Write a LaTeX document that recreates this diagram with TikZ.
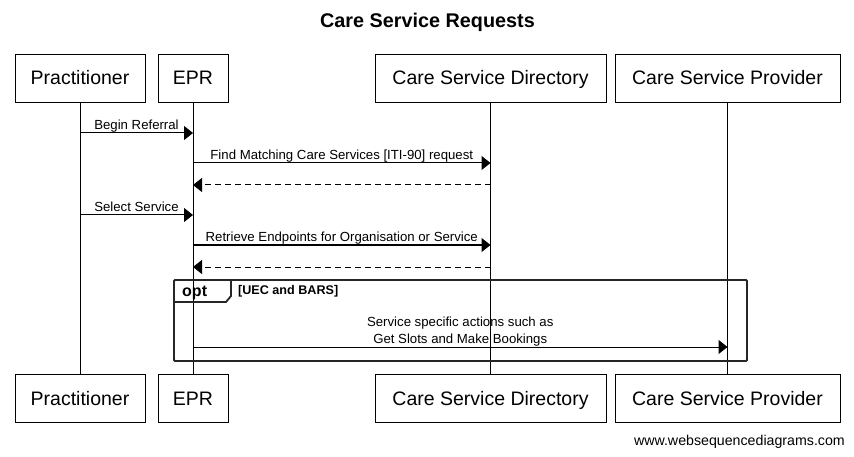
\documentclass[tikz,border=0pt]{standalone}
\usepackage{fontspec}
\setmainfont{Liberation Sans}
\usetikzlibrary{arrows.meta}
\begin{document}
\begin{tikzpicture}[x=1pt,y=-1pt,
  part/.style={draw, line width=1pt, minimum height=48pt, inner sep=0pt, text height=17pt, text depth=4pt, font=\fontsize{19.5}{23}\selectfont},
  msg/.style={line width=1pt, -{Triangle[length=9pt,width=14pt]}},
  ret/.style={msg, dash pattern=on 6pt off 4pt},
  lbl/.style={font=\fontsize{13.2}{16.5}\selectfont, inner sep=0pt, anchor=base, yshift=3pt},
  lbltwo/.style={font=\fontsize{13.2}{16.5}\selectfont, inner sep=0pt, anchor=south, yshift=0.5pt, align=center},
  life/.style={line width=1pt},
  frame/.style={line width=1.8pt, draw=black!85}]
\useasboundingbox[fill=white] (0,0) rectangle (854,457);

\node[font=\bfseries\fontsize{19.8}{22}\selectfont, anchor=base, inner sep=0pt] (title) at (427.5,28) {Care Service Requests};

% participants top
\node[part, minimum width=130pt] (pT) at (80,78.5) {Practitioner};
\node[part, minimum width=70pt]  (eT) at (193,78.5) {EPR};
\node[part, minimum width=231pt] (dT) at (490.5,78.5) {Care Service Directory};
\node[part, minimum width=225pt] (sT) at (727.5,78.5) {Care Service Provider};
% participants bottom
\node[part, minimum width=130pt] (pB) at (80,398.5) {Practitioner};
\node[part, minimum width=70pt]  (eB) at (193,398.5) {EPR};
\node[part, minimum width=231pt] (dB) at (490.5,398.5) {Care Service Directory};
\node[part, minimum width=225pt] (sB) at (727.5,398.5) {Care Service Provider};

% lifelines
\draw[life] (pT) -- (pB);
\draw[life] (eT) -- (eB);
\draw[life] (dT) -- (dB);
\draw[life] (sT) -- (sB);

% rows
\coordinate (r1) at (0,133);
\coordinate (r2) at (0,163);
\coordinate (r3) at (0,185);
\coordinate (r4) at (0,215);
\coordinate (r5) at (0,245);
\coordinate (r6) at (0,267);
\coordinate (r7) at (0,347);

\draw[msg] (pT |- r1) -- node[lbl] {Begin Referral} (eT |- r1);
\draw[msg] (eT |- r2) -- node[lbl] {Find Matching Care Services [ITI-90] request} (dT |- r2);
\draw[ret] (dT |- r3) -- (eT |- r3);
\draw[msg] (pT |- r4) -- node[lbl] {Select Service} (eT |- r4);
\draw[msg] (eT |- r5) -- node[lbl] {Retrieve Endpoints for Organisation or Service} (dT |- r5);
\draw[ret] (dT |- r6) -- (eT |- r6);

% opt frame
\node[frame, rounded corners=1pt, minimum width=573pt, minimum height=81pt, inner sep=0pt] (opt) at (460.5,320.5) {};
\coordinate (tabA) at (174,302);
\coordinate (tabB) at (226,302);
\coordinate (tabC) at (231,296);
\coordinate (tabD) at (231,280);
\draw[frame] (tabA) -- (tabB) -- (tabC) -- (tabD);
\node[font=\bfseries\fontsize{16}{18}\selectfont, anchor=base west, inner sep=0pt] (optlbl) at (182,296.5) {opt};
\node[font=\bfseries\fontsize{12.6}{15}\selectfont, anchor=base west, inner sep=0pt] (cond) at (238,294.5) {[UEC and BARS]};

\draw[msg] (eT |- r7) -- node[lbltwo] {Service specific actions such as\\Get Slots and Make Bookings} (sT |- r7);

\node[font=\fontsize{14.2}{16}\selectfont, anchor=base east, inner sep=0pt] (footer) at (845,445) {www.websequencediagrams.com};
\end{tikzpicture}
\end{document}
